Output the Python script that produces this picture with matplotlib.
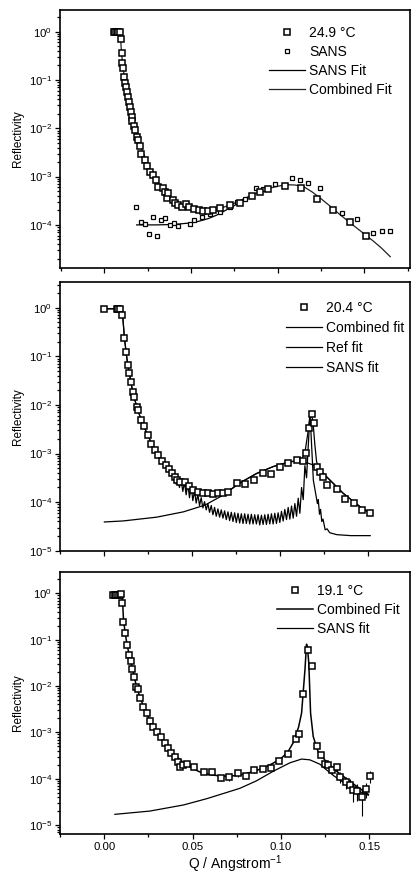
import numpy as np
import matplotlib
matplotlib.use("Agg")
import matplotlib.pyplot as plt
from matplotlib.ticker import MultipleLocator, LogLocator, NullFormatter, FuncFormatter

plt.rcParams['font.family'] = ['Liberation Sans', 'DejaVu Sans']
plt.rcParams['mathtext.default'] = 'regular'

# ---------------- Panel 1 : 24.9 C ----------------
q249 = [0.0055, 0.0062, 0.0071, 0.0081, 0.0090, 0.0096, 0.0100, 0.0104, 0.0110, 0.0113, 0.0119, 0.0125,
        0.0133, 0.0138, 0.0144, 0.0148, 0.0154, 0.0158, 0.0163, 0.0173, 0.0179, 0.0187, 0.0196, 0.0206,
        0.0215, 0.0235, 0.0248, 0.0263, 0.0283, 0.0296, 0.0312, 0.0337, 0.0350, 0.0360, 0.0369, 0.0394,
        0.0408, 0.0427, 0.0446, 0.0471, 0.0490, 0.0519, 0.0548, 0.0571, 0.0600, 0.0629, 0.0667, 0.0725,
        0.0783, 0.0850, 0.0898, 0.0946, 0.1042, 0.1138, 0.1225, 0.1321, 0.1417, 0.1508]
r249 = [1.0, 1.0, 1.0, 1.0, 0.98, 0.69, 0.37, 0.23, 0.174, 0.114, 0.088, 0.070,
        0.057, 0.045, 0.0356, 0.028, 0.0221, 0.0174, 0.0142, 0.0112, 0.0092, 0.0067, 0.0057, 0.0042,
        0.0029, 0.0022, 0.00169, 0.00127, 0.00108, 0.00085, 0.00062, 0.00057, 0.00049, 0.00036, 0.00045, 0.00033,
        0.00029, 0.00026, 0.00023, 0.00027, 0.00023, 0.00021, 0.00020, 0.000195, 0.000198, 0.000204, 0.00022, 0.00026,
        0.00029, 0.00039, 0.00047, 0.00056, 0.00064, 0.00059, 0.00035, 0.000204, 0.000114, 0.000060]

q_sans = [0.0183, 0.0210, 0.0235, 0.0258, 0.0283, 0.0302, 0.0327, 0.0352, 0.0379, 0.0402, 0.0427, 0.0494,
          0.0519, 0.0567, 0.0613, 0.0667, 0.0725, 0.0767, 0.0812, 0.0873, 0.0917, 0.0985, 0.1081, 0.1129,
          0.1177, 0.1244, 0.1369, 0.1460, 0.1552, 0.1600, 0.1648]
r_sans = [2.4e-4, 1.17e-4, 1.05e-4, 6.5e-5, 1.49e-4, 5.9e-5, 1.27e-4, 1.37e-4, 1.0e-4, 1.12e-4, 9.5e-5, 1.03e-4,
          1.27e-4, 1.44e-4, 1.66e-4, 1.89e-4, 2.3e-4, 3.0e-4, 3.45e-4, 5.7e-4, 5.5e-4, 6.9e-4, 9.2e-4, 8.5e-4,
          7.5e-4, 5.7e-4, 1.74e-4, 1.3e-4, 6.7e-5, 7.6e-5, 7.6e-5]

q_comb249 = [0.0055, 0.0090, 0.0095, 0.0100, 0.0110, 0.0120, 0.0140, 0.0160, 0.0180, 0.0200, 0.0230, 0.0260,
             0.0300, 0.0350, 0.0400, 0.0450, 0.0500, 0.0550, 0.0600, 0.0650, 0.0700, 0.0750, 0.0800, 0.0850,
             0.0900, 0.0950, 0.1000, 0.1050, 0.1100, 0.1150, 0.1200, 0.1250, 0.1300, 0.1350, 0.1400, 0.1450,
             0.1500, 0.1550, 0.1600, 0.1650]
r_comb249 = [1.0, 1.0, 0.7, 0.35, 0.17, 0.09, 0.04, 0.018, 0.009, 0.005, 0.0028, 0.0015,
             0.0008, 0.00045, 0.0003, 0.00024, 0.00021, 0.0002, 0.0002, 0.00021, 0.00024, 0.00028, 0.00034, 0.00041,
             0.00049, 0.00057, 0.00063, 0.00068, 0.00067, 0.00062, 0.00048, 0.00035, 0.00025, 0.000175, 0.000125, 0.00009,
             0.000065, 0.000047, 0.000033, 0.000022]

q_sansfit249 = [0.0187, 0.0250, 0.0300, 0.0400, 0.0500, 0.0550, 0.0600, 0.0650, 0.0700, 0.0750, 0.0800, 0.0850]
r_sansfit249 = [1.0e-4, 1.0e-4, 1.0e-4, 1.02e-4, 1.1e-4, 1.2e-4, 1.35e-4, 1.6e-4, 2.0e-4, 2.5e-4, 3.3e-4, 4.1e-4]

# ---------------- Panel 2 : 20.4 C ----------------
q204 = [0.0000, 0.0071, 0.0080, 0.0089, 0.0102, 0.0114, 0.0123, 0.0133, 0.0142, 0.0150, 0.0161, 0.0169,
        0.0184, 0.0193, 0.0206, 0.0225, 0.0246, 0.0265, 0.0288, 0.0307, 0.0326, 0.0350, 0.0367, 0.0383,
        0.0402, 0.0415, 0.0430, 0.0458, 0.0483, 0.0506, 0.0534, 0.0563, 0.0591, 0.0619, 0.0648, 0.0676,
        0.0705, 0.0752, 0.0799, 0.0850, 0.0900, 0.0947, 0.0998, 0.1045, 0.1093, 0.1131, 0.1146, 0.1163,
        0.1178, 0.1193, 0.1210, 0.1225, 0.1244, 0.1267, 0.1320, 0.1367, 0.1419, 0.1462, 0.1509]
r204 = [0.92, 0.95, 0.95, 0.95, 0.71, 0.234, 0.124, 0.066, 0.0446, 0.030, 0.0187, 0.0143,
        0.0092, 0.0078, 0.0050, 0.0036, 0.0024, 0.0016, 0.00118, 0.00093, 0.00071, 0.00058, 0.00049, 0.00039,
        0.00033, 0.00028, 0.00026, 0.00026, 0.00021, 0.000177, 0.000164, 0.000156, 0.000151, 0.000147, 0.000151, 0.000156,
        0.000164, 0.00025, 0.00024, 0.00029, 0.00039, 0.00037, 0.00053, 0.00063, 0.00073, 0.00070, 0.00101, 0.0033,
        0.0064, 0.0042, 0.00052, 0.00042, 0.00033, 0.00022, 0.000186, 0.000114, 0.0000973, 0.0000687, 0.0000605]

q_comb204 = [0.0000, 0.0095, 0.0102, 0.0108, 0.0114, 0.0123, 0.0133, 0.0142, 0.0150, 0.0161, 0.0169, 0.0184,
             0.0193, 0.0206, 0.0225, 0.0246, 0.0265, 0.0288, 0.0307, 0.0326, 0.0350, 0.0383, 0.0415, 0.0450,
             0.0500, 0.0550, 0.0600, 0.0650, 0.0700, 0.0771, 0.0866, 0.0960, 0.1055, 0.1090, 0.1120, 0.1140,
             0.1155, 0.1165, 0.1175, 0.1185, 0.1195, 0.1205, 0.1215, 0.1263, 0.1358, 0.1453, 0.1510]
r_comb204 = [0.95, 0.95, 0.85, 0.45, 0.24, 0.125, 0.066, 0.045, 0.030, 0.019, 0.0143, 0.0092,
             0.0075, 0.0052, 0.0036, 0.0024, 0.0017, 0.00120, 0.00093, 0.00072, 0.00057, 0.00040, 0.00029, 0.00023,
             0.00018, 0.000155, 0.000145, 0.000148, 0.000165, 0.00025, 0.00039, 0.00054, 0.00068, 0.00070, 0.00075, 0.0011,
             0.0025, 0.0050, 0.0067, 0.0045, 0.0016, 0.00070, 0.00050, 0.00033, 0.00015, 0.000080, 0.000059]

# Ref fit: smooth start, then zig-zag (peak / trough pairs, log10 values), then peak and tail
q_ref_start = [0.0000, 0.0095, 0.0102, 0.0108, 0.0114, 0.0123, 0.0133, 0.0142, 0.0150, 0.0161, 0.0169, 0.0184,
               0.0193, 0.0206, 0.0225, 0.0246, 0.0265, 0.0288, 0.0307, 0.0326, 0.0345]
r_ref_start = [0.95, 0.95, 0.85, 0.45, 0.24, 0.125, 0.066, 0.045, 0.030, 0.019, 0.0143, 0.0092,
               0.0075, 0.0052, 0.0036, 0.0024, 0.0017, 0.00120, 0.00093, 0.00072, 0.00058]
q_ref_hi = [0.0360, 0.0379, 0.0398, 0.0417, 0.0436, 0.0455, 0.0474, 0.0493, 0.0512, 0.0531, 0.0550, 0.0569,
            0.0588, 0.0607, 0.0626, 0.0645, 0.0664, 0.0683, 0.0702, 0.0721, 0.0740, 0.0759, 0.0778, 0.0797,
            0.0816, 0.0835, 0.0854, 0.0873, 0.0892, 0.0911, 0.0930, 0.0949, 0.0968, 0.0987, 0.1006, 0.1025,
            0.1044, 0.1063, 0.1082, 0.1101, 0.1120, 0.1139]
lr_ref_hi = [-3.28, -3.36, -3.44, -3.50, -3.55, -3.59, -3.62, -3.66, -3.76, -3.84, -3.91, -3.99,
             -4.03, -4.07, -4.11, -4.14, -4.16, -4.18, -4.20, -4.21, -4.22, -4.23, -4.24, -4.24,
             -4.25, -4.25, -4.26, -4.26, -4.27, -4.26, -4.25, -4.24, -4.23, -4.22, -4.19, -4.15,
             -4.11, -4.08, -4.03, -3.92, -3.70, -3.25]
q_ref_lo = [0.03695, 0.03885, 0.04075, 0.04265, 0.04455, 0.04645, 0.04835, 0.05025, 0.05215, 0.05405, 0.05595, 0.05785,
            0.05975, 0.06165, 0.06355, 0.06545, 0.06735, 0.06925, 0.07115, 0.07305, 0.07495, 0.07685, 0.07875, 0.08065,
            0.08255, 0.08445, 0.08635, 0.08825, 0.09015, 0.09205, 0.09395, 0.09585, 0.09775, 0.09965, 0.10155, 0.10345,
            0.10535, 0.10725, 0.10915, 0.11105, 0.11295, 0.11485]
lr_ref_lo = [-3.35, -3.45, -3.63, -3.70, -3.78, -3.85, -3.91, -3.97, -4.02, -4.07, -4.12, -4.16,
             -4.21, -4.26, -4.29, -4.31, -4.33, -4.36, -4.38, -4.40, -4.42, -4.43, -4.44, -4.44,
             -4.45, -4.45, -4.45, -4.47, -4.46, -4.46, -4.45, -4.45, -4.44, -4.42, -4.39, -4.36,
             -4.35, -4.33, -4.29, -4.23, -3.95, -3.50]
q_ref_end = [0.1168, 0.1187, 0.1200, 0.1210, 0.1215, 0.1222, 0.1228, 0.1235, 0.1242, 0.1254, 0.1265, 0.1280,
             0.1320, 0.1400, 0.1510]
lr_ref_end = [-2.17, -3.55, -3.82, -4.03, -3.95, -4.25, -4.15, -4.40, -4.35, -4.57, -4.55, -4.63,
              -4.67, -4.69, -4.69]

q_sans204 = [0.0000, 0.0108, 0.0297, 0.0449, 0.0572, 0.0676, 0.0771, 0.0866, 0.0960, 0.1055, 0.1090, 0.1130,
             0.1188, 0.1263, 0.1358, 0.1453, 0.1510]
r_sans204 = [3.9e-5, 4.1e-5, 4.9e-5, 6.3e-5, 8.7e-5, 1.4e-4, 2.5e-4, 3.9e-4, 5.4e-4, 6.8e-4, 6.9e-4, 6.8e-4,
             5.8e-4, 3.3e-4, 1.5e-4, 8.0e-5, 5.9e-5]

# ---------------- Panel 3 : 19.1 C ----------------
q191 = [0.0050, 0.0059, 0.0068, 0.0077, 0.0086, 0.0095, 0.0102, 0.0108, 0.0117, 0.0130, 0.0140, 0.0149,
        0.0158, 0.0168, 0.0179, 0.0192, 0.0202, 0.0221, 0.0240, 0.0258, 0.0277, 0.0296, 0.0319, 0.0343,
        0.0362, 0.0375, 0.0400, 0.0415, 0.0428, 0.0443, 0.0466, 0.0509, 0.0564, 0.0611, 0.0660, 0.0708,
        0.0758, 0.0802, 0.0847, 0.0896, 0.0942, 0.0991, 0.1038, 0.1085, 0.1104, 0.1126, 0.1155, 0.1177,
        0.1202, 0.1226, 0.1249, 0.1268, 0.1292, 0.1319, 0.1334, 0.1368, 0.1391, 0.1409, 0.1432, 0.1462,
        0.1481, 0.1504]
r191 = [0.93, 0.93, 0.93, 0.93, 0.93, 0.95, 0.61, 0.237, 0.137, 0.077, 0.0467, 0.0352,
        0.0229, 0.0154, 0.0097, 0.0086, 0.0054, 0.0036, 0.00257, 0.00179, 0.00133, 0.00103, 0.00081, 0.00058,
        0.00047, 0.00036, 0.00030, 0.00023, 0.00018, 0.00020, 0.000207, 0.000176, 0.000142, 0.000142, 0.000102, 0.000107,
        0.000130, 0.000114, 0.000154, 0.000159, 0.000167, 0.000244, 0.00034, 0.00071, 0.00091, 0.0066, 0.060, 0.027,
        0.00052, 0.00032, 0.00021, 0.000197, 0.000154, 0.000176, 0.000110, 0.000086, 0.000073, 0.000057, 0.000055, 0.000040,
        0.000059, 0.000114]
err191 = [0, 0, 0, 0, 0, 0, 0, 0, 0, 0, 0, 0,
          0, 0, 0, 0, 0, 0, 0, 0, 0, 0, 0, 0,
          0, 0, 0, 0, 0, 0, 0, 0, 0, 0, 1.5e-5, 1.8e-5,
          2.0e-5, 1.5e-5, 2.0e-5, 0, 0, 0, 0, 0, 0, 0, 0, 0,
          0, 0, 2.5e-5, 3.0e-5, 3.0e-5, 3.5e-5, 3.0e-5, 2.5e-5, 2.5e-5, 2.5e-5, 2.2e-5, 2.4e-5,
          2.0e-5, 3.5e-5]

q_comb191 = [0.0050, 0.0098, 0.0103, 0.0108, 0.0115, 0.0125, 0.0135, 0.0150, 0.0165, 0.0180, 0.0200, 0.0220,
             0.0250, 0.0280, 0.0310, 0.0350, 0.0400, 0.0450, 0.0500, 0.0550, 0.0600, 0.0650, 0.0700, 0.0750,
             0.0800, 0.0850, 0.0900, 0.0950, 0.1000, 0.1040, 0.1070, 0.1100, 0.1117, 0.1136, 0.1145, 0.1150,
             0.1158, 0.1168, 0.1183, 0.1211, 0.1250, 0.1300, 0.1350, 0.1400, 0.1450, 0.1495]
r_comb191 = [0.95, 0.95, 0.7, 0.3, 0.17, 0.095, 0.060, 0.033, 0.019, 0.0105, 0.0060, 0.0038,
             0.0021, 0.00125, 0.00085, 0.00052, 0.00032, 0.00022, 0.000165, 0.000135, 0.000122, 0.000115, 0.000113, 0.000117,
             0.000128, 0.000145, 0.00017, 0.00021, 0.00027, 0.00038, 0.00060, 0.0013, 0.0026, 0.022, 0.08, 0.07,
             0.031, 0.0026, 0.00081, 0.00038, 0.00025, 0.00016, 0.000115, 0.000082, 0.000060, 0.000046]

q_sans191 = [0.0060, 0.0258, 0.0447, 0.0580, 0.0690, 0.0768, 0.0862, 0.0957, 0.1051, 0.1117, 0.1164, 0.1221,
             0.1258, 0.1300, 0.1350, 0.1400, 0.1450, 0.1495]
r_sans191 = [1.7e-5, 2.0e-5, 2.7e-5, 3.7e-5, 5.0e-5, 6.2e-5, 9.0e-5, 1.45e-4, 2.2e-4, 2.65e-4, 2.55e-4, 2.05e-4,
             1.55e-4, 1.15e-4, 8.5e-5, 6.5e-5, 5.2e-5, 4.4e-5]

# ---------------- figure ----------------
W, H = 412, 877
fig = plt.figure(figsize=(W / 100, H / 100), dpi=100)

def px_axes(top, bottom, left=60, right=410):
    return fig.add_axes([left / W, 1 - bottom / H, (right - left) / W, (bottom - top) / H])

ax1 = px_axes(10, 267.7)
ax2 = px_axes(282.3, 550.7)
ax3 = px_axes(571.7, 834)

LW = 0.9
sq_big = dict(marker='s', mfc='white', mec='black', mew=1.1, ms=4.3, ls='none')
sq_small = dict(marker='s', mfc='white', mec='black', mew=0.9, ms=2.7, ls='none')
leg_kw = dict(frameon=False, fontsize=10, handlelength=2.6, handletextpad=0.3, borderaxespad=0.2)

# panel 1
h_sf, = ax1.plot(q_sansfit249, r_sansfit249, color='black', lw=LW, label='SANS Fit')
h_cf, = ax1.plot(q_comb249, r_comb249, color='#222222', lw=LW, label='Combined Fit')
h_s, = ax1.plot(q_sans, r_sans, label='SANS', **sq_small)
h_d, = ax1.plot(q249, r249, label='24.9 °C', **sq_big)
ax1.set_xlim(-0.0255, 0.1764)
ax1.set_ylim(10 ** -4.886, 10 ** 0.449)
ax1.legend(handles=[h_d, h_s, h_sf, h_cf], loc='upper right', bbox_to_anchor=(0.972, 0.972),
           labelspacing=0.36, **leg_kw)

# panel 2
q_ref = list(q_ref_start)
r_ref = list(r_ref_start)
for qa, la, qb, lb in zip(q_ref_hi, lr_ref_hi, q_ref_lo, lr_ref_lo):
    q_ref += [qa, qb]
    r_ref += [10 ** la, 10 ** lb]
q_ref += q_ref_end
r_ref += [10 ** v for v in lr_ref_end]

h2_s, = ax2.plot(q_sans204, r_sans204, color='black', lw=LW, label='SANS fit')
h2_r, = ax2.plot(q_ref, r_ref, color='black', lw=LW, label='Ref fit')
h2_c, = ax2.plot(q_comb204, r_comb204, color='black', lw=LW, label='Combined fit')
h2_d, = ax2.plot(q204, r204, label='20.4 °C', **sq_big)
ax2.set_xlim(-0.0252, 0.1736)
ax2.set_ylim(1e-5, 10 ** 0.523)
ax2.legend(handles=[h2_d, h2_c, h2_r, h2_s], loc='upper right', bbox_to_anchor=(1.007, 0.963),
           labelspacing=0.45, **leg_kw)

# panel 3
h3_s, = ax3.plot(q_sans191, r_sans191, color='black', lw=LW, label='SANS fit')
h3_c, = ax3.plot(q_comb191, r_comb191, color='black', lw=1.1, label='Combined Fit')
ax3.errorbar(q191, r191, yerr=err191, fmt='none', ecolor='black', elinewidth=0.8, capsize=0)
h3_d, = ax3.plot(q191, r191, label='19.1 °C', **sq_big)
ax3.set_xlim(-0.0251, 0.1731)
ax3.set_ylim(10 ** -5.194, 10 ** 0.467)
ax3.legend(handles=[h3_d, h3_c, h3_s], loc='upper right', bbox_to_anchor=(0.995, 0.985),
           labelspacing=0.36, **leg_kw)

for ax in (ax1, ax2, ax3):
    ax.set_yscale('log')
    ax.yaxis.set_major_locator(LogLocator(base=10, numticks=20))
    ax.yaxis.set_minor_locator(LogLocator(base=10, subs=np.arange(2, 10), numticks=20))
    ax.yaxis.set_minor_formatter(NullFormatter())
    ax.xaxis.set_major_locator(MultipleLocator(0.05))
    ax.xaxis.set_minor_locator(MultipleLocator(0.025))
    ax.tick_params(which='both', direction='out', top=False, right=False, width=0.9)
    ax.tick_params(which='major', length=3.5, labelsize=8.2, pad=2)
    ax.tick_params(which='minor', length=2.0)
    for sp in ax.spines.values():
        sp.set_linewidth(1.2)
    ax.set_ylabel('Reflectivity', fontsize=8.5)
    ax.yaxis.set_label_coords(-0.103, 0.5)

ax1.tick_params(labelbottom=False)
ax2.tick_params(labelbottom=False)
ax3.xaxis.set_major_formatter(FuncFormatter(lambda v, p: f'{v:.2f}'))
ax3.set_xlabel('Q / Angstrom$^{-1}$', fontsize=10, labelpad=1)

fig.savefig('out.png', dpi=100)
